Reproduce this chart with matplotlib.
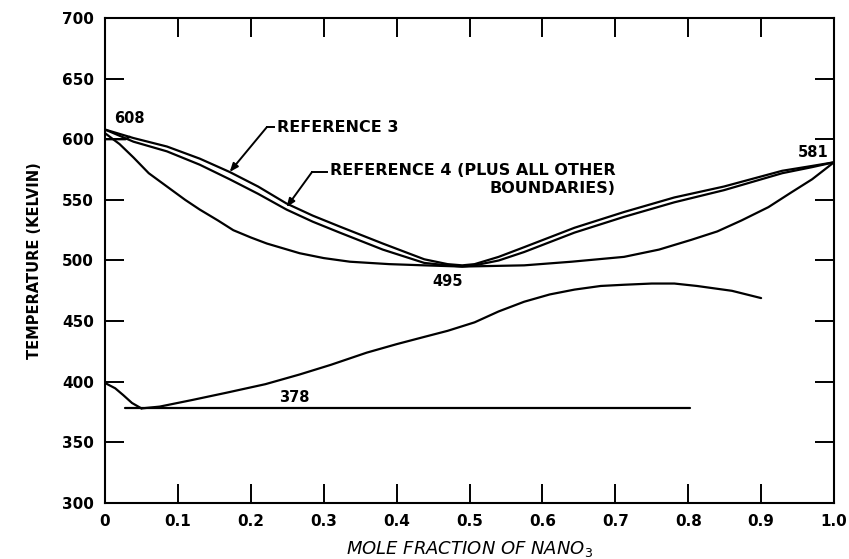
import matplotlib
matplotlib.use("Agg")
import matplotlib.pyplot as plt

plt.rcParams['font.family'] = ['DejaVu Sans']

# Liquidus, Reference 3
ref3_x = [0.0, 0.039, 0.085, 0.13, 0.171, 0.21, 0.249, 0.285, 0.322, 0.381, 0.438, 0.47, 0.49, 0.507, 0.54, 0.575, 0.644, 0.712, 0.781, 0.849, 0.929, 0.97, 1.0]
ref3_T = [608, 601, 594, 584, 573, 561, 547, 537, 528, 514, 501, 497, 496, 497, 503, 511, 527, 540, 552, 561, 574, 578, 581]

# Liquidus, Reference 4
ref4_x = [0.0, 0.039, 0.085, 0.13, 0.171, 0.21, 0.249, 0.285, 0.322, 0.381, 0.438, 0.47, 0.49, 0.507, 0.54, 0.575, 0.644, 0.712, 0.781, 0.849, 0.929, 0.97, 1.0]
ref4_T = [608, 598, 590, 579, 567, 555, 542, 532, 523, 509, 498, 496, 495, 496, 500, 507, 523, 536, 548, 558, 572, 577, 581]

# Solidus
sol_x = [0.0, 0.02, 0.039, 0.06, 0.085, 0.11, 0.13, 0.155, 0.176, 0.2, 0.222, 0.267, 0.3, 0.336, 0.39, 0.438, 0.49, 0.575, 0.64, 0.712, 0.76, 0.804, 0.84, 0.873, 0.91, 0.941, 0.97, 1.0]
sol_T = [605, 596, 585, 572, 561, 550, 542, 533, 525, 519, 514, 506, 502, 499, 497, 496, 495, 496, 499, 503, 509, 517, 524, 533, 544, 556, 567, 581]

# Small loop near x = 0
loop_x = [0.0, 0.028, 0.034]
loop_T = [600, 600, 602]

# Solvus (upper boundary of lower region)
solv_x = [0.05, 0.075, 0.12, 0.167, 0.22, 0.267, 0.31, 0.359, 0.4, 0.438, 0.47, 0.507, 0.54, 0.575, 0.61, 0.644, 0.68, 0.712, 0.75, 0.781, 0.812, 0.86, 0.9]
solv_T = [378, 379.5, 385, 391, 398, 406, 414, 424, 431, 437, 442, 449, 458, 466, 472, 476, 479, 480, 481, 481, 479, 475, 469]

# Left small boundary
left_x = [0.0, 0.014, 0.025, 0.037, 0.05]
left_T = [399, 394.6, 389, 382.5, 378]

# Eutectic line
eut_x = [0.027, 0.803]
eut_T = [378, 378]

xticks = [0.0, 0.1, 0.2, 0.3, 0.4, 0.5, 0.6, 0.7, 0.8, 0.9, 1.0]
xticklabels = ["0", "0.1", "0.2", "0.3", "0.4", "0.5", "0.6", "0.7", "0.8", "0.9", "1.0"]
yticks = [300, 350, 400, 450, 500, 550, 600, 650, 700]

fig = plt.figure(figsize=(8.49, 5.59), dpi=100)
ax = fig.add_axes([105/849, 56/559, 729/849, 485/559])

lw = 1.6
for xs, ts in [(ref3_x, ref3_T), (ref4_x, ref4_T), (sol_x, sol_T), (loop_x, loop_T),
               (solv_x, solv_T), (left_x, left_T), (eut_x, eut_T)]:
    ax.plot(xs, ts, color='black', lw=lw, solid_capstyle='round', solid_joinstyle='round')

ax.set_xlim(0, 1.0)
ax.set_ylim(300, 700)

ax.xaxis.remove_overlapping_locs = False
ax.yaxis.remove_overlapping_locs = False
ax.set_xticks(xticks)
ax.set_xticklabels(xticklabels, fontweight='bold')
ax.set_yticks(yticks)
ax.set_yticklabels([str(v) for v in yticks], fontweight='bold')
ax.tick_params(which='major', length=0, labelsize=11, pad=8)
ax.set_xticks(xticks[1:-1], minor=True)
ax.set_yticks(yticks[1:-1], minor=True)
ax.tick_params(which='minor', direction='in', length=14, width=1.4,
               top=True, right=True, bottom=True, left=True,
               labelbottom=False, labelleft=False)
for s in ax.spines.values():
    s.set_linewidth(1.5)

ax.set_ylabel("TEMPERATURE (KELVIN)", fontsize=10.5, fontweight='bold', labelpad=14)
ax.set_xlabel("MOLE FRACTION OF NANO$_3$", fontsize=13, style='italic', labelpad=7)

# Value labels
kw = dict(fontsize=10.5, fontweight='bold')
ax.text(0.012, 611, "608", ha='left', va='bottom', **kw)
ax.text(0.993, 583, "581", ha='right', va='bottom', **kw)
ax.text(0.47, 489, "495", ha='center', va='top', **kw)
ax.text(0.26, 381, "378", ha='center', va='bottom', **kw)

# Reference annotations
ax.text(0.236, 610, "REFERENCE 3", fontsize=11.5, fontweight='bold', ha='left', va='center')
ax.plot([0.222, 0.232], [610, 610], color='black', lw=1.4)
ax.annotate("", xy=(0.171, 573), xytext=(0.222, 610),
            arrowprops=dict(arrowstyle='-|>,head_length=0.5,head_width=0.2', color='black', lw=1.4,
                            shrinkA=0, shrinkB=0))
ax.text(0.308, 580, "REFERENCE 4 (PLUS ALL OTHER\nBOUNDARIES)", fontsize=11.5, fontweight='bold',
        ha='left', va='top', multialignment='right', linespacing=1.25)
ax.plot([0.284, 0.304], [573, 573], color='black', lw=1.4)
ax.annotate("", xy=(0.249, 544), xytext=(0.284, 573),
            arrowprops=dict(arrowstyle='-|>,head_length=0.5,head_width=0.2', color='black', lw=1.4,
                            shrinkA=0, shrinkB=0))

fig.savefig("out.png", dpi=100)
